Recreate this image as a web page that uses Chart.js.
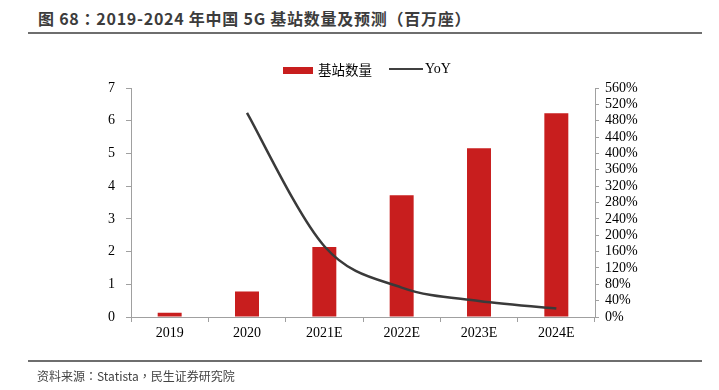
<!DOCTYPE html>
<html>
<head>
<meta charset="utf-8">
<script src="https://cdn.jsdelivr.net/npm/chart.js@4"></script>
<style>
  html, body { margin:0; padding:0; background:#fff; }
  #wrap { position:relative; width:719px; height:390px; overflow:hidden; }
  #c { position:absolute; left:0; top:0; }
  .title { position:absolute; left:38px; top:6px; font-family:"Noto Sans CJK TC","Noto Sans CJK SC",sans-serif; font-weight:bold; font-size:16px; color:#3c3c3c; white-space:nowrap; letter-spacing:0.75px; }
  .rule { position:absolute; left:28px; width:674px; height:2px; background:#6e6e6e; }
  .src { position:absolute; left:37px; top:367px; font-family:"Noto Sans CJK TC","Noto Sans CJK SC",sans-serif; font-size:12px; color:#444; white-space:nowrap; }
  .leg { position:absolute; top:59px; font-family:"Liberation Serif","Noto Sans CJK SC",serif; font-size:14px; color:#000; white-space:nowrap; line-height:20px; }
</style>
</head>
<body>
<div id="wrap">
  <div class="title">图 68：2019-2024 年中国 5G 基站数量及预测（百万座）</div>
  <div class="rule" style="top:32px"></div>
  <canvas id="c" width="719" height="390"></canvas>
  <div class="leg" style="left:283px"><span style="display:inline-block;width:30px;height:7px;background:#C81E1E;vertical-align:middle;margin-right:5px;position:relative;top:-1px"></span><span style="font-family:'Noto Sans CJK SC',sans-serif;font-size:13.5px">基站数量</span></div>
  <div class="leg" style="left:389px"><span style="display:inline-block;width:34px;height:2.5px;background:#404040;vertical-align:middle;margin-right:2px;position:relative;top:-1px"></span>YoY</div>
  <div class="rule" style="top:360px"></div>
  <div class="src">资料来源：Statista，民生证券研究院</div>
</div>
<script>
const categories = ["2019", "2020", "2021E", "2022E", "2023E", "2024E"];
const stationCounts = [0.13, 0.78, 2.14, 3.72, 5.16, 6.23];
const yoyPercent = [null, 499, 173, 72, 39, 21];
const seriesNames = ["基站数量", "YoY"];

const tickFont = { family: "Liberation Serif", size: 14 };

// Uniform Catmull-Rom smoothing (like spreadsheet "smoothed line") applied to the
// control points of the library's own line element, computed from scale-mapped points.
const smoothLine = {
  id: 'smoothLine',
  beforeDatasetDraw(chart, args) {
    const meta = args.meta;
    if (meta.type !== 'line') return;
    meta.dataset.updateControlPoints(chart.chartArea, meta.iScale.axis);
    const pts = meta.data.filter(p => !p.skip);
    const n = pts.length;
    for (let i = 0; i < n; i++) {
      const p = pts[i];
      const prev = pts[Math.max(i - 1, 0)];
      const next = pts[Math.min(i + 1, n - 1)];
      const tx = (next.x - prev.x) / 6, ty = (next.y - prev.y) / 6;
      p.cp1x = p.x - tx; p.cp1y = p.y - ty;
      p.cp2x = p.x + tx; p.cp2y = p.y + ty;
    }
    meta.dataset._path = undefined;
  }
};

new Chart(document.getElementById('c'), {
  data: {
    labels: categories,
    datasets: [
      {
        type: 'line',
        label: seriesNames[1],
        data: yoyPercent,
        yAxisID: 'y2',
        borderColor: '#3a3a3a',
        borderWidth: 2.5,
        pointRadius: 0,
        tension: 0.4,
        fill: false,
        order: 0
      },
      {
        type: 'bar',
        label: seriesNames[0],
        data: stationCounts,
        yAxisID: 'y',
        backgroundColor: '#C81E1E',
        barPercentage: 0.62,
        categoryPercentage: 0.5,
        order: 1
      }
    ]
  },
  plugins: [smoothLine],
  options: {
    responsive: false,
    devicePixelRatio: 1,
    animation: false,
    layout: { padding: { left: 0, right: 0, top: 88, bottom: 43 } },
    plugins: { legend: { display: false }, tooltip: { enabled: false } },
    scales: {
      x: {
        offset: true,
        grid: { offset: true, drawOnChartArea: false, drawTicks: true, tickLength: 5, color: '#a0a0a0' },
        border: { display: true, color: '#a0a0a0', width: 1 },
        ticks: { font: tickFont, color: '#000', padding: 3, maxRotation: 0, autoSkip: false },
        afterFit: s => { s.height = 30; }
      },
      y: {
        position: 'left',
        min: 0, max: 7,
        grid: { drawOnChartArea: false, drawTicks: true, tickLength: 5, color: '#a0a0a0' },
        border: { display: true, color: '#a0a0a0', width: 1 },
        ticks: { stepSize: 1, font: tickFont, color: '#000', padding: 11, autoSkip: false },
        afterFit: s => { s.width = 131; }
      },
      y2: {
        position: 'right',
        min: 0, max: 560,
        grid: { drawOnChartArea: false, drawTicks: true, tickLength: 4, color: '#a0a0a0' },
        border: { display: true, color: '#a0a0a0', width: 1 },
        ticks: { stepSize: 40, font: tickFont, color: '#000', padding: 6, autoSkip: false, callback: v => v + '%' },
        afterFit: s => { s.width = 124; }
      }
    }
  }
});
</script>
</body>
</html>
